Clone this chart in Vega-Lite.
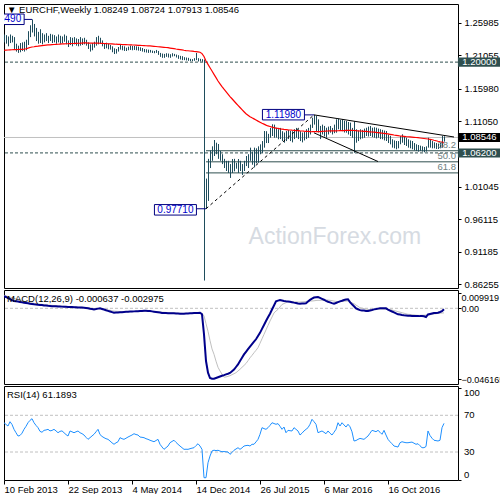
{
"$schema":"https://vega.github.io/schema/vega-lite/v6.json",
"padding":{"left":3,"top":3,"right":0,"bottom":0},
"spacing":2,
"bounds":"flush",
"background":"white",
"config":{"view":{"stroke":"#000000","strokeWidth":1},"axis":{"labelFont":"Liberation Sans","labelFontSize":9.5,"labelColor":"#000000","tickColor":"#000000","tickSize":3,"labelPadding":3,"domain":false,"grid":false,"labelOverlap":false},"title":{"font":"Liberation Sans","fontSize":9.5,"fontWeight":"normal","color":"#000000","anchor":"start","frame":"group"}},
"datasets":{
"w":[
{"d":"2013-02-10","h":1.2420,"l":1.2300,"a":1.2180,"m":0.0080,"s":0.0085,"r":61.9},
{"d":"2013-02-17","h":1.2410,"l":1.2280,"a":1.2182,"m":0.0074,"s":0.0081,"r":60.0},
{"d":"2013-02-24","h":1.2390,"l":1.2240,"a":1.2184,"m":0.0067,"s":0.0077,"r":58.3},
{"d":"2013-03-03","h":1.2420,"l":1.2290,"a":1.2186,"m":0.0061,"s":0.0073,"r":63.0},
{"d":"2013-03-10","h":1.2400,"l":1.2300,"a":1.2188,"m":0.0054,"s":0.0069,"r":60.0},
{"d":"2013-03-17","h":1.2380,"l":1.2200,"a":1.2190,"m":0.0048,"s":0.0065,"r":54.7},
{"d":"2013-03-24","h":1.2280,"l":1.2160,"a":1.2191,"m":0.0046,"s":0.0061,"r":51.0},
{"d":"2013-03-31","h":1.2250,"l":1.2140,"a":1.2192,"m":0.0044,"s":0.0057,"r":47.4},
{"d":"2013-04-07","h":1.2290,"l":1.2150,"a":1.2194,"m":0.0041,"s":0.0053,"r":48.0},
{"d":"2013-04-14","h":1.2300,"l":1.2170,"a":1.2195,"m":0.0039,"s":0.0049,"r":50.5},
{"d":"2013-04-21","h":1.2310,"l":1.2160,"a":1.2197,"m":0.0037,"s":0.0045,"r":54.7},
{"d":"2013-04-28","h":1.2340,"l":1.2180,"a":1.2203,"m":0.0035,"s":0.0042,"r":58.0},
{"d":"2013-05-05","h":1.2470,"l":1.2260,"a":1.2212,"m":0.0033,"s":0.0040,"r":61.9},
{"d":"2013-05-12","h":1.2560,"l":1.2380,"a":1.2222,"m":0.0030,"s":0.0037,"r":64.5},
{"d":"2013-05-19","h":1.2649,"l":1.2450,"a":1.2230,"m":0.0028,"s":0.0035,"r":66.3},
{"d":"2013-05-26","h":1.2580,"l":1.2390,"a":1.2234,"m":0.0026,"s":0.0032,"r":61.9},
{"d":"2013-06-02","h":1.2520,"l":1.2320,"a":1.2239,"m":0.0025,"s":0.0030,"r":59.0},
{"d":"2013-06-09","h":1.2460,"l":1.2280,"a":1.2243,"m":0.0023,"s":0.0029,"r":56.5},
{"d":"2013-06-16","h":1.2500,"l":1.2290,"a":1.2248,"m":0.0022,"s":0.0027,"r":52.5},
{"d":"2013-06-23","h":1.2440,"l":1.2270,"a":1.2252,"m":0.0021,"s":0.0026,"r":51.5},
{"d":"2013-06-30","h":1.2420,"l":1.2300,"a":1.2255,"m":0.0019,"s":0.0024,"r":53.6},
{"d":"2013-07-07","h":1.2440,"l":1.2320,"a":1.2258,"m":0.0018,"s":0.0023,"r":54.0},
{"d":"2013-07-14","h":1.2400,"l":1.2290,"a":1.2261,"m":0.0016,"s":0.0021,"r":54.7},
{"d":"2013-07-21","h":1.2430,"l":1.2320,"a":1.2263,"m":0.0015,"s":0.0020,"r":53.0},
{"d":"2013-07-28","h":1.2420,"l":1.2290,"a":1.2266,"m":0.0014,"s":0.0019,"r":53.5},
{"d":"2013-08-04","h":1.2410,"l":1.2300,"a":1.2268,"m":0.0014,"s":0.0018,"r":54.7},
{"d":"2013-08-11","h":1.2390,"l":1.2280,"a":1.2270,"m":0.0013,"s":0.0017,"r":53.0},
{"d":"2013-08-18","h":1.2420,"l":1.2300,"a":1.2272,"m":0.0012,"s":0.0016,"r":51.0},
{"d":"2013-08-25","h":1.2400,"l":1.2280,"a":1.2274,"m":0.0012,"s":0.0015,"r":52.5},
{"d":"2013-09-01","h":1.2390,"l":1.2290,"a":1.2276,"m":0.0011,"s":0.0014,"r":53.0},
{"d":"2013-09-08","h":1.2420,"l":1.2310,"a":1.2277,"m":0.0010,"s":0.0013,"r":51.0},
{"d":"2013-09-15","h":1.2400,"l":1.2270,"a":1.2279,"m":0.0010,"s":0.0012,"r":49.0},
{"d":"2013-09-22","h":1.2330,"l":1.2230,"a":1.2280,"m":0.0009,"s":0.0011,"r":47.4},
{"d":"2013-09-29","h":1.2380,"l":1.2260,"a":1.2282,"m":0.0008,"s":0.0010,"r":52.9},
{"d":"2013-10-06","h":1.2370,"l":1.2240,"a":1.2283,"m":0.0008,"s":0.0010,"r":52.0},
{"d":"2013-10-13","h":1.2380,"l":1.2270,"a":1.2284,"m":0.0007,"s":0.0009,"r":51.0},
{"d":"2013-10-20","h":1.2360,"l":1.2250,"a":1.2286,"m":0.0007,"s":0.0008,"r":52.0},
{"d":"2013-10-27","h":1.2350,"l":1.2240,"a":1.2287,"m":0.0006,"s":0.0007,"r":52.9},
{"d":"2013-11-03","h":1.2380,"l":1.2250,"a":1.2288,"m":0.0005,"s":0.0007,"r":51.0},
{"d":"2013-11-10","h":1.2360,"l":1.2260,"a":1.2290,"m":0.0005,"s":0.0006,"r":50.0},
{"d":"2013-11-17","h":1.2370,"l":1.2270,"a":1.2291,"m":0.0004,"s":0.0005,"r":48.5},
{"d":"2013-11-24","h":1.2340,"l":1.2250,"a":1.2291,"m":0.0002,"s":0.0004,"r":46.0},
{"d":"2013-12-01","h":1.2300,"l":1.2200,"a":1.2290,"m":0.0000,"s":0.0003,"r":43.8},
{"d":"2013-12-08","h":1.2270,"l":1.2160,"a":1.2289,"m":-0.0003,"s":0.0002,"r":45.6},
{"d":"2013-12-15","h":1.2290,"l":1.2180,"a":1.2289,"m":-0.0005,"s":0.0000,"r":47.5},
{"d":"2013-12-22","h":1.2310,"l":1.2220,"a":1.2289,"m":-0.0007,"s":-0.0001,"r":49.3},
{"d":"2013-12-29","h":1.2380,"l":1.2250,"a":1.2289,"m":-0.0005,"s":-0.0002,"r":52.0},
{"d":"2014-01-05","h":1.2400,"l":1.2270,"a":1.2288,"m":-0.0002,"s":-0.0002,"r":54.7},
{"d":"2014-01-12","h":1.2370,"l":1.2280,"a":1.2287,"m":0.0000,"s":-0.0001,"r":49.0},
{"d":"2014-01-19","h":1.2330,"l":1.2240,"a":1.2285,"m":-0.0004,"s":-0.0003,"r":47.0},
{"d":"2014-01-26","h":1.2290,"l":1.2200,"a":1.2283,"m":-0.0008,"s":-0.0006,"r":45.6},
{"d":"2014-02-02","h":1.2295,"l":1.2210,"a":1.2281,"m":-0.0013,"s":-0.0008,"r":44.5},
{"d":"2014-02-09","h":1.2280,"l":1.2195,"a":1.2279,"m":-0.0017,"s":-0.0011,"r":43.8},
{"d":"2014-02-16","h":1.2260,"l":1.2190,"a":1.2277,"m":-0.0021,"s":-0.0013,"r":42.0},
{"d":"2014-02-23","h":1.2240,"l":1.2150,"a":1.2276,"m":-0.0025,"s":-0.0016,"r":40.0},
{"d":"2014-03-02","h":1.2210,"l":1.2123,"a":1.2274,"m":-0.0029,"s":-0.0018,"r":38.4},
{"d":"2014-03-09","h":1.2200,"l":1.2130,"a":1.2272,"m":-0.0028,"s":-0.0019,"r":40.0},
{"d":"2014-03-16","h":1.2230,"l":1.2160,"a":1.2271,"m":-0.0027,"s":-0.0020,"r":41.2},
{"d":"2014-03-23","h":1.2275,"l":1.2190,"a":1.2270,"m":-0.0026,"s":-0.0021,"r":45.6},
{"d":"2014-03-30","h":1.2250,"l":1.2180,"a":1.2268,"m":-0.0025,"s":-0.0021,"r":44.5},
{"d":"2014-04-06","h":1.2240,"l":1.2170,"a":1.2267,"m":-0.0024,"s":-0.0022,"r":43.8},
{"d":"2014-04-13","h":1.2220,"l":1.2169,"a":1.2266,"m":-0.0023,"s":-0.0022,"r":45.0},
{"d":"2014-04-20","h":1.2235,"l":1.2180,"a":1.2264,"m":-0.0022,"s":-0.0023,"r":46.3},
{"d":"2014-04-27","h":1.2250,"l":1.2185,"a":1.2263,"m":-0.0021,"s":-0.0022,"r":47.4},
{"d":"2014-05-04","h":1.2245,"l":1.2180,"a":1.2261,"m":-0.0021,"s":-0.0022,"r":48.5},
{"d":"2014-05-11","h":1.2245,"l":1.2185,"a":1.2260,"m":-0.0020,"s":-0.0021,"r":49.9},
{"d":"2014-05-18","h":1.2240,"l":1.2180,"a":1.2258,"m":-0.0019,"s":-0.0021,"r":49.0},
{"d":"2014-05-25","h":1.2235,"l":1.2175,"a":1.2256,"m":-0.0019,"s":-0.0020,"r":48.5},
{"d":"2014-06-01","h":1.2225,"l":1.2170,"a":1.2255,"m":-0.0018,"s":-0.0020,"r":46.3},
{"d":"2014-06-08","h":1.2215,"l":1.2160,"a":1.2253,"m":-0.0017,"s":-0.0019,"r":46.0},
{"d":"2014-06-15","h":1.2200,"l":1.2150,"a":1.2251,"m":-0.0016,"s":-0.0019,"r":45.6},
{"d":"2014-06-22","h":1.2195,"l":1.2145,"a":1.2249,"m":-0.0016,"s":-0.0019,"r":44.5},
{"d":"2014-06-29","h":1.2190,"l":1.2140,"a":1.2248,"m":-0.0017,"s":-0.0019,"r":43.8},
{"d":"2014-07-06","h":1.2185,"l":1.2145,"a":1.2246,"m":-0.0018,"s":-0.0019,"r":42.8},
{"d":"2014-07-13","h":1.2175,"l":1.2139,"a":1.2243,"m":-0.0020,"s":-0.0020,"r":42.0},
{"d":"2014-07-20","h":1.2170,"l":1.2135,"a":1.2240,"m":-0.0022,"s":-0.0021,"r":41.2},
{"d":"2014-07-27","h":1.2185,"l":1.2140,"a":1.2237,"m":-0.0024,"s":-0.0022,"r":42.5},
{"d":"2014-08-03","h":1.2170,"l":1.2110,"a":1.2234,"m":-0.0026,"s":-0.0023,"r":43.8},
{"d":"2014-08-10","h":1.2140,"l":1.2080,"a":1.2231,"m":-0.0028,"s":-0.0024,"r":38.4},
{"d":"2014-08-17","h":1.2130,"l":1.2065,"a":1.2228,"m":-0.0030,"s":-0.0025,"r":35.5},
{"d":"2014-08-24","h":1.2125,"l":1.2065,"a":1.2225,"m":-0.0031,"s":-0.0026,"r":32.9},
{"d":"2014-08-31","h":1.2135,"l":1.2080,"a":1.2222,"m":-0.0031,"s":-0.0027,"r":34.7},
{"d":"2014-09-07","h":1.2130,"l":1.2070,"a":1.2219,"m":-0.0032,"s":-0.0028,"r":36.5},
{"d":"2014-09-14","h":1.2120,"l":1.2065,"a":1.2214,"m":-0.0032,"s":-0.0029,"r":40.1},
{"d":"2014-09-21","h":1.2135,"l":1.2085,"a":1.2209,"m":-0.0033,"s":-0.0029,"r":41.5},
{"d":"2014-09-28","h":1.2125,"l":1.2090,"a":1.2204,"m":-0.0033,"s":-0.0030,"r":42.8},
{"d":"2014-10-05","h":1.2115,"l":1.2070,"a":1.2199,"m":-0.0034,"s":-0.0031,"r":40.5},
{"d":"2014-10-12","h":1.2105,"l":1.2050,"a":1.2195,"m":-0.0034,"s":-0.0032,"r":38.4},
{"d":"2014-10-19","h":1.2095,"l":1.2040,"a":1.2190,"m":-0.0035,"s":-0.0032,"r":36.5},
{"d":"2014-10-26","h":1.2090,"l":1.2030,"a":1.2185,"m":-0.0035,"s":-0.0033,"r":34.7},
{"d":"2014-11-02","h":1.2075,"l":1.2030,"a":1.2180,"m":-0.0035,"s":-0.0033,"r":32.9},
{"d":"2014-11-09","h":1.2070,"l":1.2025,"a":1.2176,"m":-0.0034,"s":-0.0033,"r":33.0},
{"d":"2014-11-16","h":1.2065,"l":1.2020,"a":1.2173,"m":-0.0034,"s":-0.0033,"r":32.9},
{"d":"2014-11-23","h":1.2050,"l":1.2015,"a":1.2169,"m":-0.0033,"s":-0.0033,"r":33.6},
{"d":"2014-11-30","h":1.2045,"l":1.2015,"a":1.2166,"m":-0.0032,"s":-0.0032,"r":34.2},
{"d":"2014-12-07","h":1.2060,"l":1.2020,"a":1.2162,"m":-0.0031,"s":-0.0032,"r":34.7},
{"d":"2014-12-14","h":1.2139,"l":1.2030,"a":1.2159,"m":-0.0030,"s":-0.0032,"r":37.0},
{"d":"2014-12-21","h":1.2060,"l":1.2010,"a":1.2155,"m":-0.0030,"s":-0.0031,"r":39.0},
{"d":"2014-12-28","h":1.2050,"l":1.2010,"a":1.2150,"m":-0.0029,"s":-0.0031,"r":36.5},
{"d":"2015-01-04","h":1.2045,"l":1.2005,"a":1.2130,"m":-0.0039,"s":-0.0032,"r":32.9},
{"d":"2015-01-11","h":1.2040,"l":0.8680,"a":1.2085,"m":-0.0170,"s":-0.0050,"r":2.0},
{"d":"2015-01-18","h":1.0230,"l":0.9771,"a":1.2017,"m":-0.0344,"s":-0.0100,"r":2.0},
{"d":"2015-01-25","h":1.0530,"l":0.9890,"a":1.1966,"m":-0.0420,"s":-0.0150,"r":18.3},
{"d":"2015-02-01","h":1.0660,"l":1.0390,"a":1.1915,"m":-0.0455,"s":-0.0210,"r":25.6},
{"d":"2015-02-08","h":1.0720,"l":1.0500,"a":1.1865,"m":-0.0460,"s":-0.0265,"r":31.1},
{"d":"2015-02-15","h":1.0816,"l":1.0573,"a":1.1814,"m":-0.0460,"s":-0.0300,"r":32.0},
{"d":"2015-02-22","h":1.0775,"l":1.0600,"a":1.1764,"m":-0.0455,"s":-0.0345,"r":31.5},
{"d":"2015-03-01","h":1.0755,"l":1.0530,"a":1.1713,"m":-0.0450,"s":-0.0385,"r":31.9},
{"d":"2015-03-08","h":1.0650,"l":1.0500,"a":1.1670,"m":-0.0445,"s":-0.0409,"r":31.0},
{"d":"2015-03-15","h":1.0600,"l":1.0450,"a":1.1628,"m":-0.0440,"s":-0.0430,"r":30.3},
{"d":"2015-03-22","h":1.0530,"l":1.0390,"a":1.1588,"m":-0.0436,"s":-0.0449,"r":30.5},
{"d":"2015-03-29","h":1.0500,"l":1.0345,"a":1.1550,"m":-0.0431,"s":-0.0448,"r":30.2},
{"d":"2015-04-05","h":1.0500,"l":1.0315,"a":1.1513,"m":-0.0427,"s":-0.0444,"r":30.0},
{"d":"2015-04-12","h":1.0450,"l":1.0240,"a":1.1477,"m":-0.0422,"s":-0.0440,"r":27.5},
{"d":"2015-04-19","h":1.0527,"l":1.0315,"a":1.1443,"m":-0.0411,"s":-0.0433,"r":29.5},
{"d":"2015-04-26","h":1.0530,"l":1.0340,"a":1.1409,"m":-0.0400,"s":-0.0427,"r":31.9},
{"d":"2015-05-03","h":1.0470,"l":1.0380,"a":1.1375,"m":-0.0383,"s":-0.0420,"r":33.3},
{"d":"2015-05-10","h":1.0527,"l":1.0315,"a":1.1342,"m":-0.0366,"s":-0.0409,"r":34.7},
{"d":"2015-05-17","h":1.0500,"l":1.0345,"a":1.1310,"m":-0.0344,"s":-0.0398,"r":32.9},
{"d":"2015-05-24","h":1.0450,"l":1.0285,"a":1.1278,"m":-0.0323,"s":-0.0385,"r":34.5},
{"d":"2015-05-31","h":1.0500,"l":1.0345,"a":1.1246,"m":-0.0301,"s":-0.0373,"r":36.5},
{"d":"2015-06-07","h":1.0573,"l":1.0420,"a":1.1215,"m":-0.0284,"s":-0.0360,"r":37.0},
{"d":"2015-06-14","h":1.0600,"l":1.0390,"a":1.1192,"m":-0.0267,"s":-0.0342,"r":37.3},
{"d":"2015-06-21","h":1.0700,"l":1.0500,"a":1.1170,"m":-0.0250,"s":-0.0323,"r":36.5},
{"d":"2015-06-28","h":1.0640,"l":1.0440,"a":1.1153,"m":-0.0234,"s":-0.0307,"r":38.4},
{"d":"2015-07-05","h":1.0700,"l":1.0400,"a":1.1137,"m":-0.0218,"s":-0.0290,"r":38.4},
{"d":"2015-07-12","h":1.0690,"l":1.0460,"a":1.1120,"m":-0.0202,"s":-0.0274,"r":41.0},
{"d":"2015-07-19","h":1.0720,"l":1.0470,"a":1.1103,"m":-0.0181,"s":-0.0257,"r":43.8},
{"d":"2015-07-26","h":1.0750,"l":1.0600,"a":1.1087,"m":-0.0160,"s":-0.0228,"r":49.3},
{"d":"2015-08-02","h":1.0800,"l":1.0620,"a":1.1070,"m":-0.0134,"s":-0.0199,"r":56.5},
{"d":"2015-08-09","h":1.0953,"l":1.0700,"a":1.1057,"m":-0.0109,"s":-0.0170,"r":55.5},
{"d":"2015-08-16","h":1.0950,"l":1.0770,"a":1.1043,"m":-0.0083,"s":-0.0141,"r":54.7},
{"d":"2015-08-23","h":1.0910,"l":1.0770,"a":1.1030,"m":-0.0059,"s":-0.0112,"r":56.5},
{"d":"2015-08-30","h":1.1000,"l":1.0850,"a":1.1022,"m":-0.0035,"s":-0.0083,"r":59.0},
{"d":"2015-09-06","h":1.1055,"l":1.0877,"a":1.1013,"m":-0.0008,"s":-0.0057,"r":61.9},
{"d":"2015-09-13","h":1.1050,"l":1.0850,"a":1.1005,"m":0.0018,"s":-0.0030,"r":61.0},
{"d":"2015-09-20","h":1.1003,"l":1.0851,"a":1.0998,"m":0.0045,"s":-0.0018,"r":60.2},
{"d":"2015-09-27","h":1.0980,"l":1.0827,"a":1.0992,"m":0.0050,"s":-0.0007,"r":60.9},
{"d":"2015-10-04","h":1.1000,"l":1.0830,"a":1.0985,"m":0.0054,"s":0.0009,"r":58.0},
{"d":"2015-10-11","h":1.0950,"l":1.0800,"a":1.0981,"m":0.0051,"s":0.0025,"r":54.7},
{"d":"2015-10-18","h":1.0930,"l":1.0775,"a":1.0977,"m":0.0048,"s":0.0031,"r":57.2},
{"d":"2015-10-25","h":1.0955,"l":1.0800,"a":1.0974,"m":0.0046,"s":0.0037,"r":51.0},
{"d":"2015-11-01","h":1.0970,"l":1.0830,"a":1.0970,"m":0.0045,"s":0.0043,"r":53.6},
{"d":"2015-11-08","h":1.0955,"l":1.0800,"a":1.0968,"m":0.0043,"s":0.0043,"r":53.2},
{"d":"2015-11-15","h":1.0950,"l":1.0780,"a":1.0965,"m":0.0040,"s":0.0042,"r":52.9},
{"d":"2015-11-22","h":1.0980,"l":1.0830,"a":1.0963,"m":0.0037,"s":0.0042,"r":56.5},
{"d":"2015-11-29","h":1.1000,"l":1.0850,"a":1.0960,"m":0.0035,"s":0.0042,"r":54.7},
{"d":"2015-12-06","h":1.0980,"l":1.0830,"a":1.0958,"m":0.0032,"s":0.0041,"r":52.9},
{"d":"2015-12-13","h":1.0950,"l":1.0800,"a":1.0955,"m":0.0030,"s":0.0041,"r":48.5},
{"d":"2015-12-20","h":1.0930,"l":1.0780,"a":1.0953,"m":0.0031,"s":0.0042,"r":50.5},
{"d":"2015-12-27","h":1.0940,"l":1.0810,"a":1.0950,"m":0.0032,"s":0.0043,"r":52.9},
{"d":"2016-01-03","h":1.0980,"l":1.0830,"a":1.0948,"m":0.0033,"s":0.0045,"r":54.7},
{"d":"2016-01-10","h":1.1000,"l":1.0850,"a":1.0946,"m":0.0044,"s":0.0046,"r":56.5},
{"d":"2016-01-17","h":1.1050,"l":1.0900,"a":1.0944,"m":0.0055,"s":0.0047,"r":60.2},
{"d":"2016-01-24","h":1.1155,"l":1.1000,"a":1.0942,"m":0.0063,"s":0.0048,"r":65.6},
{"d":"2016-01-31","h":1.1198,"l":1.1050,"a":1.0943,"m":0.0070,"s":0.0049,"r":63.0},
{"d":"2016-02-07","h":1.1180,"l":1.0950,"a":1.0944,"m":0.0072,"s":0.0051,"r":60.2},
{"d":"2016-02-14","h":1.1130,"l":1.0930,"a":1.0944,"m":0.0074,"s":0.0052,"r":51.0},
{"d":"2016-02-21","h":1.1030,"l":1.0830,"a":1.0945,"m":0.0068,"s":0.0052,"r":52.0},
{"d":"2016-02-28","h":1.1050,"l":1.0900,"a":1.0947,"m":0.0062,"s":0.0053,"r":52.9},
{"d":"2016-03-06","h":1.1030,"l":1.0870,"a":1.0949,"m":0.0056,"s":0.0053,"r":51.5},
{"d":"2016-03-13","h":1.1003,"l":1.0851,"a":1.0951,"m":0.0049,"s":0.0054,"r":49.9},
{"d":"2016-03-20","h":1.1020,"l":1.0900,"a":1.0953,"m":0.0043,"s":0.0054,"r":52.9},
{"d":"2016-03-27","h":1.1029,"l":1.0927,"a":1.0954,"m":0.0039,"s":0.0052,"r":50.5},
{"d":"2016-04-03","h":1.1000,"l":1.0900,"a":1.0955,"m":0.0034,"s":0.0050,"r":48.5},
{"d":"2016-04-10","h":1.1050,"l":1.0920,"a":1.0955,"m":0.0030,"s":0.0047,"r":51.5},
{"d":"2016-04-17","h":1.1131,"l":1.0927,"a":1.0956,"m":0.0035,"s":0.0045,"r":54.7},
{"d":"2016-04-24","h":1.1140,"l":1.0979,"a":1.0957,"m":0.0040,"s":0.0043,"r":61.9},
{"d":"2016-05-01","h":1.1120,"l":1.0960,"a":1.0958,"m":0.0045,"s":0.0044,"r":58.3},
{"d":"2016-05-08","h":1.1131,"l":1.0950,"a":1.0959,"m":0.0049,"s":0.0045,"r":61.9},
{"d":"2016-05-15","h":1.1110,"l":1.0930,"a":1.0960,"m":0.0054,"s":0.0046,"r":59.5},
{"d":"2016-05-22","h":1.1105,"l":1.0927,"a":1.0961,"m":0.0057,"s":0.0047,"r":57.2},
{"d":"2016-05-29","h":1.1090,"l":1.0900,"a":1.0962,"m":0.0059,"s":0.0048,"r":60.2},
{"d":"2016-06-05","h":1.1080,"l":1.0877,"a":1.0963,"m":0.0040,"s":0.0042,"r":57.5},
{"d":"2016-06-12","h":1.1000,"l":1.0850,"a":1.0964,"m":0.0026,"s":0.0036,"r":52.0},
{"d":"2016-06-19","h":1.1100,"l":1.0622,"a":1.0961,"m":0.0013,"s":0.0030,"r":42.0},
{"d":"2016-06-26","h":1.0979,"l":1.0775,"a":1.0958,"m":0.0000,"s":0.0021,"r":42.5},
{"d":"2016-07-03","h":1.0960,"l":1.0800,"a":1.0956,"m":-0.0006,"s":0.0013,"r":43.8},
{"d":"2016-07-10","h":1.0979,"l":1.0827,"a":1.0953,"m":-0.0012,"s":0.0004,"r":44.8},
{"d":"2016-07-17","h":1.0970,"l":1.0840,"a":1.0951,"m":-0.0014,"s":0.0001,"r":44.3},
{"d":"2016-07-24","h":1.0990,"l":1.0850,"a":1.0948,"m":-0.0015,"s":-0.0002,"r":43.8},
{"d":"2016-07-31","h":1.1003,"l":1.0877,"a":1.0946,"m":-0.0017,"s":-0.0005,"r":45.6},
{"d":"2016-08-07","h":1.1020,"l":1.0870,"a":1.0943,"m":-0.0018,"s":-0.0008,"r":47.4},
{"d":"2016-08-14","h":1.1029,"l":1.0877,"a":1.0941,"m":-0.0014,"s":-0.0011,"r":50.5},
{"d":"2016-08-21","h":1.1003,"l":1.0860,"a":1.0938,"m":-0.0011,"s":-0.0010,"r":53.6},
{"d":"2016-08-28","h":1.1010,"l":1.0851,"a":1.0935,"m":-0.0007,"s":-0.0009,"r":52.9},
{"d":"2016-09-04","h":1.1003,"l":1.0840,"a":1.0931,"m":-0.0005,"s":-0.0008,"r":52.1},
{"d":"2016-09-11","h":1.0990,"l":1.0851,"a":1.0928,"m":-0.0002,"s":-0.0006,"r":53.6},
{"d":"2016-09-18","h":1.0980,"l":1.0830,"a":1.0925,"m":0.0000,"s":-0.0005,"r":51.5},
{"d":"2016-09-25","h":1.0970,"l":1.0827,"a":1.0921,"m":0.0000,"s":-0.0005,"r":49.3},
{"d":"2016-10-02","h":1.0960,"l":1.0810,"a":1.0918,"m":0.0000,"s":-0.0006,"r":53.6},
{"d":"2016-10-09","h":1.0953,"l":1.0801,"a":1.0913,"m":0.0000,"s":-0.0006,"r":48.5},
{"d":"2016-10-16","h":1.0900,"l":1.0770,"a":1.0908,"m":-0.0008,"s":-0.0007,"r":43.8},
{"d":"2016-10-23","h":1.0880,"l":1.0750,"a":1.0903,"m":-0.0015,"s":-0.0007,"r":41.2},
{"d":"2016-10-30","h":1.0827,"l":1.0700,"a":1.0898,"m":-0.0021,"s":-0.0011,"r":39.0},
{"d":"2016-11-06","h":1.0810,"l":1.0690,"a":1.0892,"m":-0.0027,"s":-0.0015,"r":36.5},
{"d":"2016-11-13","h":1.0801,"l":1.0675,"a":1.0887,"m":-0.0033,"s":-0.0018,"r":36.0},
{"d":"2016-11-20","h":1.0800,"l":1.0690,"a":1.0882,"m":-0.0039,"s":-0.0022,"r":35.4},
{"d":"2016-11-27","h":1.0877,"l":1.0751,"a":1.0877,"m":-0.0041,"s":-0.0025,"r":40.1},
{"d":"2016-12-04","h":1.0903,"l":1.0775,"a":1.0874,"m":-0.0044,"s":-0.0029,"r":41.2},
{"d":"2016-12-11","h":1.0870,"l":1.0740,"a":1.0871,"m":-0.0046,"s":-0.0032,"r":40.6},
{"d":"2016-12-18","h":1.0851,"l":1.0725,"a":1.0868,"m":-0.0047,"s":-0.0036,"r":40.1},
{"d":"2016-12-25","h":1.0827,"l":1.0700,"a":1.0866,"m":-0.0048,"s":-0.0039,"r":40.1},
{"d":"2017-01-01","h":1.0810,"l":1.0690,"a":1.0863,"m":-0.0049,"s":-0.0040,"r":40.5},
{"d":"2017-01-08","h":1.0801,"l":1.0675,"a":1.0860,"m":-0.0050,"s":-0.0042,"r":40.8},
{"d":"2017-01-15","h":1.0770,"l":1.0660,"a":1.0857,"m":-0.0050,"s":-0.0043,"r":39.6},
{"d":"2017-01-22","h":1.0751,"l":1.0649,"a":1.0854,"m":-0.0050,"s":-0.0045,"r":38.4},
{"d":"2017-01-29","h":1.0740,"l":1.0640,"a":1.0851,"m":-0.0050,"s":-0.0046,"r":39.0},
{"d":"2017-02-05","h":1.0730,"l":1.0649,"a":1.0847,"m":-0.0051,"s":-0.0046,"r":36.8},
{"d":"2017-02-12","h":1.0720,"l":1.0640,"a":1.0843,"m":-0.0051,"s":-0.0045,"r":34.7},
{"d":"2017-02-19","h":1.0710,"l":1.0630,"a":1.0839,"m":-0.0052,"s":-0.0045,"r":34.7},
{"d":"2017-02-26","h":1.0720,"l":1.0640,"a":1.0835,"m":-0.0057,"s":-0.0044,"r":36.0},
{"d":"2017-03-05","h":1.0851,"l":1.0700,"a":1.0831,"m":-0.0040,"s":-0.0044,"r":52.9},
{"d":"2017-03-12","h":1.0820,"l":1.0700,"a":1.0827,"m":-0.0037,"s":-0.0042,"r":48.0},
{"d":"2017-03-19","h":1.0800,"l":1.0690,"a":1.0820,"m":-0.0034,"s":-0.0040,"r":45.0},
{"d":"2017-03-26","h":1.0780,"l":1.0690,"a":1.0812,"m":-0.0031,"s":-0.0037,"r":42.8},
{"d":"2017-04-02","h":1.0770,"l":1.0680,"a":1.0805,"m":-0.0030,"s":-0.0035,"r":42.4},
{"d":"2017-04-09","h":1.0760,"l":1.0680,"a":1.0797,"m":-0.0029,"s":-0.0033,"r":42.0},
{"d":"2017-04-16","h":1.0770,"l":1.0690,"a":1.0790,"m":-0.0024,"s":-0.0032,"r":42.8},
{"d":"2017-04-23","h":1.0877,"l":1.0699,"a":1.0784,"m":-0.0018,"s":-0.0031,"r":56.5},
{"d":"2017-04-30","h":1.08724,"l":1.07913,"a":1.0778,"m":-0.000637,"s":-0.002975,"r":61.1893}
],
"dl":[{"p":1.2},{"p":1.062}],
"bid":[{"p":1.08546}],
"fib":[{"p":1.06529,"t":"38.2"},{"p":1.04845,"t":"50.0"},{"p":1.03161,"t":"61.8"}],
"dash":[{"x1":"2015-01-18","y1":0.9771,"x2":"2016-01-31","y2":1.1198}],
"trend":[{"x1":"2016-01-31","y1":1.1198,"x2":"2017-06-04","y2":1.0862},{"x1":"2016-01-31","y1":1.0925,"x2":"2016-09-11","y2":1.0489}],
"conn":[{"x1":"2014-12-16","y1":0.9771,"x2":"2015-01-18","y2":0.9771},{"x1":"2015-12-28","y1":1.1198,"x2":"2016-01-31","y2":1.1198},{"x1":"2013-04-14","y1":1.2649,"x2":"2013-05-19","y2":1.2649}],
"ann":[{"d":"2015-10-16","p":1.1201,"t":"1.11980"},{"d":"2014-10-03","p":0.9755,"t":"0.97710"},{"d":"2013-02-07","p":1.2651,"t":"1.26490"}],
"tagS":[{"p":1.2,"t":"1.20000"},{"p":1.062,"t":"1.06200"}],
"tagK":[{"p":1.08546,"t":"1.08546"}],
"lv":[{"v":70},{"v":30}],
"rTop":[{"v":100,"t":"100"}],
"rMid":[{"v":70,"t":"70"},{"v":30,"t":"30"}],
"rBot":[{"v":0,"t":"0"}]
},
"vconcat":[
{
"width":454,"height":284,
"title":{"text":"▼  EURCHF,Weekly 1.08249 1.08724 1.07913 1.08546","offset":-10,"dx":3},
"layer":[
{"data":{"values":[{"t":"ActionForex.com"}]},"mark":{"type":"text","fontSize":23,"color":"#D6DBE2","font":"Liberation Sans"},
 "encoding":{"x":{"datum":{"year":2016,"month":4,"date":13,"utc":true},"type":"temporal","scale":{"type":"utc","domain":[{"year":2013,"month":2,"date":10,"utc":true},{"year":2017,"month":6,"date":18,"utc":true}]},"axis":null},
  "y":{"datum":0.9342,"type":"quantitative","scale":{"domain":[0.85666,1.28834],"zero":false,"nice":false},"axis":{"orient":"right","values":[1.25985,1.21055,1.1598,1.1105,1.01045,0.96115,0.91185,0.86255],"format":".5f","title":null}},
  "text":{"field":"t"}}},
{"data":{"name":"dl"},"mark":{"type":"rule","color":"#2F4F4F","strokeDash":[3,2]},"encoding":{"y":{"field":"p","type":"quantitative","title":null}}},
{"data":{"name":"bid"},"mark":{"type":"rule","color":"#C0C0C0"},"encoding":{"y":{"field":"p","type":"quantitative","title":null}}},
{"data":{"name":"fib"},"mark":{"type":"rule","color":"#2F4F4F"},"encoding":{"x":{"datum":{"year":2015,"month":1,"date":18,"utc":true},"type":"temporal"},"x2":{"datum":{"year":2017,"month":6,"date":18,"utc":true}},"y":{"field":"p","type":"quantitative","title":null}}},
{"data":{"name":"w"},"mark":{"type":"rule","color":"#1E4D5C","strokeWidth":1,"xOffset":0.5,"clip":true},"encoding":{"x":{"field":"d","type":"temporal","title":null},"y":{"field":"l","type":"quantitative","title":null},"y2":{"field":"h"}}},
{"data":{"name":"w"},"mark":{"type":"line","color":"#FF0000","strokeWidth":1.2,"clip":true},"encoding":{"x":{"field":"d","type":"temporal","title":null},"y":{"field":"a","type":"quantitative","title":null}}},
{"data":{"name":"dash"},"mark":{"type":"rule","color":"#000000","strokeDash":[3,3],"clip":true},"encoding":{"x":{"field":"x1","type":"temporal","title":null},"x2":{"field":"x2"},"y":{"field":"y1","type":"quantitative","title":null},"y2":{"field":"y2"}}},
{"data":{"name":"trend"},"mark":{"type":"rule","color":"#000000","clip":true},"encoding":{"x":{"field":"x1","type":"temporal","title":null},"x2":{"field":"x2"},"y":{"field":"y1","type":"quantitative","title":null},"y2":{"field":"y2"}}},
{"data":{"name":"conn"},"mark":{"type":"rule","color":"#000080","clip":true},"encoding":{"x":{"field":"x1","type":"temporal","title":null},"x2":{"field":"x2"},"y":{"field":"y1","type":"quantitative","title":null},"y2":{"field":"y2"}}},
{"data":{"name":"fib"},"mark":{"type":"text","align":"right","baseline":"bottom","dy":-1,"fontSize":9.5,"font":"Liberation Sans","color":"#6E8080"},"encoding":{"x":{"datum":{"year":2017,"month":6,"date":11,"utc":true},"type":"temporal"},"y":{"field":"p","type":"quantitative","title":null},"text":{"field":"t"}}},
{"data":{"name":"ann"},"mark":{"type":"point","shape":"M-1,-0.25H1V0.25H-1Z","size":1764,"filled":true,"fill":"#FFFFFF","stroke":"#000080","strokeWidth":1,"opacity":1,"clip":true},"encoding":{"x":{"field":"d","type":"temporal","title":null},"y":{"field":"p","type":"quantitative","title":null}}},
{"data":{"name":"ann"},"mark":{"type":"text","fontSize":10,"font":"Liberation Sans","color":"#0000CD","clip":true},"encoding":{"x":{"field":"d","type":"temporal","title":null},"y":{"field":"p","type":"quantitative","title":null},"text":{"field":"t"}}},
{"data":{"name":"tagS"},"mark":{"type":"point","shape":"M-1,-0.21H1V0.21H-1Z","size":1849,"filled":true,"fill":"#2F4F4F","strokeWidth":0,"opacity":1},"encoding":{"x":{"datum":{"year":2017,"month":9,"date":1,"utc":true},"type":"temporal"},"y":{"field":"p","type":"quantitative","title":null}}},
{"data":{"name":"tagK"},"mark":{"type":"point","shape":"M-1,-0.21H1V0.21H-1Z","size":1849,"filled":true,"fill":"#000000","strokeWidth":0,"opacity":1},"encoding":{"x":{"datum":{"year":2017,"month":9,"date":1,"utc":true},"type":"temporal"},"y":{"field":"p","type":"quantitative","title":null}}},
{"data":{"name":"tagS"},"mark":{"type":"text","fontSize":9.5,"font":"Liberation Sans","color":"#FFFFFF"},"encoding":{"x":{"datum":{"year":2017,"month":9,"date":1,"utc":true},"type":"temporal"},"y":{"field":"p","type":"quantitative","title":null},"text":{"field":"t"}}},
{"data":{"name":"tagK"},"mark":{"type":"text","fontSize":9.5,"font":"Liberation Sans","color":"#FFFFFF"},"encoding":{"x":{"datum":{"year":2017,"month":9,"date":1,"utc":true},"type":"temporal"},"y":{"field":"p","type":"quantitative","title":null},"text":{"field":"t"}}}
]
},
{
"width":454,"height":94,
"title":{"text":"MACD(12,26,9) -0.000637 -0.002975","offset":-13,"dx":3},
"layer":[
{"data":{"values":[{"v":0}]},"mark":{"type":"rule","color":"#C0C0C0","strokeDash":[3,2]},
 "encoding":{"y":{"field":"v","type":"quantitative","title":null,"scale":{"domain":[-0.0494,0.01195],"zero":false,"nice":false},
  "axis":{"orient":"right","values":[0.009919,0,-0.046165],"labelFontSize":9,"labelPadding":0,"labelExpr":"datum.value == 0 ? '0.00' : format(datum.value, '.6f')","labelBaseline":{"condition":{"test":"datum.value > 0.005","value":"top"},"value":"middle"}}}}},
{"data":{"name":"w"},"mark":{"type":"line","color":"#C0C0C0","strokeWidth":1,"clip":true},"encoding":{"x":{"field":"d","type":"temporal","title":null,"scale":{"type":"utc","domain":[{"year":2013,"month":2,"date":10,"utc":true},{"year":2017,"month":6,"date":18,"utc":true}]},"axis":null},"y":{"field":"s","type":"quantitative","title":null}}},
{"data":{"name":"w"},"mark":{"type":"line","color":"#00008B","strokeWidth":2,"clip":true},"encoding":{"x":{"field":"d","type":"temporal","title":null},"y":{"field":"m","type":"quantitative","title":null}}}
]
},
{
"width":454,"height":94,
"title":{"text":"RSI(14) 61.1893","offset":-13,"dx":3},
"layer":[
{"data":{"name":"lv"},"mark":{"type":"rule","color":"#C0C0C0","strokeDash":[3,2]},
 "encoding":{"y":{"field":"v","type":"quantitative","title":null,"scale":{"domain":[-0.5,101.9],"zero":false,"nice":false},
  "axis":{"orient":"right","values":[100,70,30,0],"labels":false}}}},
{"data":{"name":"w"},"mark":{"type":"line","color":"#1E90FF","strokeWidth":1,"clip":true},
 "encoding":{"x":{"field":"d","type":"temporal","title":null,"scale":{"type":"utc","domain":[{"year":2013,"month":2,"date":10,"utc":true},{"year":2017,"month":6,"date":18,"utc":true}]},
   "axis":{"values":[{"year":2013,"month":2,"date":10,"utc":true},{"year":2013,"month":9,"date":22,"utc":true},{"year":2014,"month":5,"date":4,"utc":true},{"year":2014,"month":12,"date":14,"utc":true},{"year":2015,"month":7,"date":26,"utc":true},{"year":2016,"month":3,"date":6,"utc":true},{"year":2016,"month":10,"date":16,"utc":true}],"format":"%-d %b %Y","labelAlign":"left","labelFlush":false,"labelOverlap":false,"labelBound":false,"tickSize":4,"labelPadding":0}},
  "y":{"field":"r","type":"quantitative","title":null}}},
{"data":{"name":"rTop"},"mark":{"type":"text","align":"left","baseline":"top","fontSize":9.5,"font":"Liberation Sans","color":"#000000"},"encoding":{"x":{"datum":{"year":2017,"month":7,"date":9,"utc":true},"type":"temporal"},"y":{"field":"v","type":"quantitative","title":null},"text":{"field":"t"}}},
{"data":{"name":"rMid"},"mark":{"type":"text","align":"left","baseline":"middle","fontSize":9.5,"font":"Liberation Sans","color":"#000000"},"encoding":{"x":{"datum":{"year":2017,"month":7,"date":9,"utc":true},"type":"temporal"},"y":{"field":"v","type":"quantitative","title":null},"text":{"field":"t"}}},
{"data":{"name":"rBot"},"mark":{"type":"text","align":"left","baseline":"bottom","fontSize":9.5,"font":"Liberation Sans","color":"#000000"},"encoding":{"x":{"datum":{"year":2017,"month":7,"date":9,"utc":true},"type":"temporal"},"y":{"field":"v","type":"quantitative","title":null},"text":{"field":"t"}}}
]
}
]
}
